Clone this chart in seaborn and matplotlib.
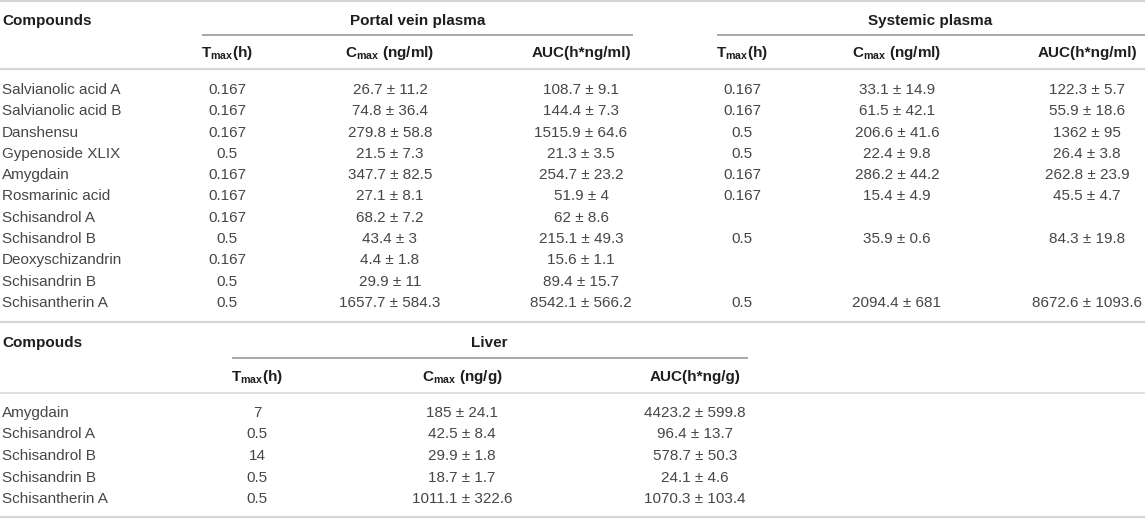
import matplotlib
matplotlib.use("Agg")
import matplotlib.pyplot as plt
import pandas as pd
import seaborn as sns

# ---- data: plasma (portal vein / systemic) ----
compounds_plasma = ["Salvianolic acid A", "Salvianolic acid B", "Danshensu", "Gypenoside XLIX",
                    "Amygdain", "Rosmarinic acid", "Schisandrol A", "Schisandrol B",
                    "Deoxyschizandrin", "Schisandrin B", "Schisantherin A"]
portal_tmax = ["0.167", "0.167", "0.167", "0.5", "0.167", "0.167", "0.167", "0.5", "0.167", "0.5", "0.5"]
portal_cmax = ["26.7 ± 11.2", "74.8 ± 36.4", "279.8 ± 58.8", "21.5 ± 7.3", "347.7 ± 82.5", "27.1 ± 8.1",
               "68.2 ± 7.2", "43.4 ± 3", "4.4 ± 1.8", "29.9 ± 11", "1657.7 ± 584.3"]
portal_auc = ["108.7 ± 9.1", "144.4 ± 7.3", "1515.9 ± 64.6", "21.3 ± 3.5", "254.7 ± 23.2", "51.9 ± 4",
              "62 ± 8.6", "215.1 ± 49.3", "15.6 ± 1.1", "89.4 ± 15.7", "8542.1 ± 566.2"]
sys_tmax = ["0.167", "0.167", "0.5", "0.5", "0.167", "0.167", "", "0.5", "", "", "0.5"]
sys_cmax = ["33.1 ± 14.9", "61.5 ± 42.1", "206.6 ± 41.6", "22.4 ± 9.8", "286.2 ± 44.2", "15.4 ± 4.9",
            "", "35.9 ± 0.6", "", "", "2094.4 ± 681"]
sys_auc = ["122.3 ± 5.7", "55.9 ± 18.6", "1362 ± 95", "26.4 ± 3.8", "262.8 ± 23.9", "45.5 ± 4.7",
           "", "84.3 ± 19.8", "", "", "8672.6 ± 1093.6"]

# ---- data: liver ----
compounds_liver = ["Amygdain", "Schisandrol A", "Schisandrol B", "Schisandrin B", "Schisantherin A"]
liver_tmax = ["7", "0.5", "14", "0.5", "0.5"]
liver_cmax = ["185 ± 24.1", "42.5 ± 8.4", "29.9 ± 1.8", "18.7 ± 1.7", "1011.1 ± 322.6"]
liver_auc = ["4423.2 ± 599.8", "96.4 ± 13.7", "578.7 ± 50.3", "24.1 ± 4.6", "1070.3 ± 103.4"]

plasma = pd.DataFrame({"compound": compounds_plasma,
                       "p_tmax": portal_tmax, "p_cmax": portal_cmax, "p_auc": portal_auc,
                       "s_tmax": sys_tmax, "s_cmax": sys_cmax, "s_auc": sys_auc})
liver = pd.DataFrame({"compound": compounds_liver,
                      "tmax": liver_tmax, "cmax": liver_cmax, "auc": liver_auc})

sns.set_theme(style="white")
plt.rcParams["font.family"] = ["Liberation Sans", "DejaVu Sans"]
plt.rcParams["mathtext.fontset"] = "custom"
plt.rcParams["mathtext.rm"] = "Liberation Sans:bold"
plt.rcParams["mathtext.bf"] = "Liberation Sans:bold"

W, H = 1145, 519
fig = plt.figure(figsize=(W / 100, H / 100), dpi=100)
ax = fig.add_axes([0, 0, 1, 1])
ax.set_xlim(0, W)
ax.set_ylim(H, 0)
ax.axis("off")

FS = 11
DATA_C = "#464646"
HEAD_C = "#1e1e1e"
RULE_C = "#d6d6d6"
SUB_C = "#999999"


def head(x, y, s, ha="center"):
    ax.text(x, y, s, ha=ha, va="center", fontsize=FS, fontweight="bold", color=HEAD_C)


def cell(x, y, s, ha="center"):
    ax.text(x, y, s, ha=ha, va="center", fontsize=FS, color=DATA_C)


tmax_lbl = r"$\mathbf{T}_{\mathbf{max}}$(h)"
cmax_lbl = r"$\mathbf{C}_{\mathbf{max}}$ (ng/ml)"

# ---- top table ----
ax.hlines(1, 0, W, color=RULE_C, lw=1.6)
head(2, 21, "Compounds", ha="left")
head(418, 21, "Portal vein plasma")
head(930, 21, "Systemic plasma")
ax.hlines(35, 202, 633, color=SUB_C, lw=1.2)
ax.hlines(35, 717, W, color=SUB_C, lw=1.2)

cols_top = [("p_tmax", 227, tmax_lbl), ("p_cmax", 390, cmax_lbl), ("p_auc", 581, "AUC(h*ng/ml)"),
            ("s_tmax", 742, tmax_lbl), ("s_cmax", 897, cmax_lbl), ("s_auc", 1087, "AUC(h*ng/ml)")]
for key, x, lbl in cols_top:
    head(x, 53, lbl)
ax.hlines(69, 0, W, color=RULE_C, lw=1.6)

y0, pitch0 = 90, 21.3
for i, row in plasma.iterrows():
    y = y0 + i * pitch0
    cell(2, y, row["compound"], ha="left")
    for key, x, _ in cols_top:
        if row[key]:
            cell(x, y, row[key])
ax.hlines(322, 0, W, color=RULE_C, lw=1.6)

# ---- liver table ----
head(2, 343, "Compouds", ha="left")
head(489, 343, "Liver")
ax.hlines(358, 232, 748, color=SUB_C, lw=1.2)
cols_liver = [("tmax", 257, tmax_lbl), ("cmax", 462, r"$\mathbf{C}_{\mathbf{max}}$ (ng/g)"),
              ("auc", 695, "AUC(h*ng/g)")]
for key, x, lbl in cols_liver:
    head(x, 377, lbl)
ax.hlines(393, 0, W, color=RULE_C, lw=1.1)

y1, pitch1 = 413, 21.5
for i, row in liver.iterrows():
    y = y1 + i * pitch1
    cell(2, y, row["compound"], ha="left")
    for key, x, _ in cols_liver:
        cell(x, y, row[key])
ax.hlines(517, 0, W, color=RULE_C, lw=1.6)

fig.savefig("out.png", dpi=100, facecolor="white")
